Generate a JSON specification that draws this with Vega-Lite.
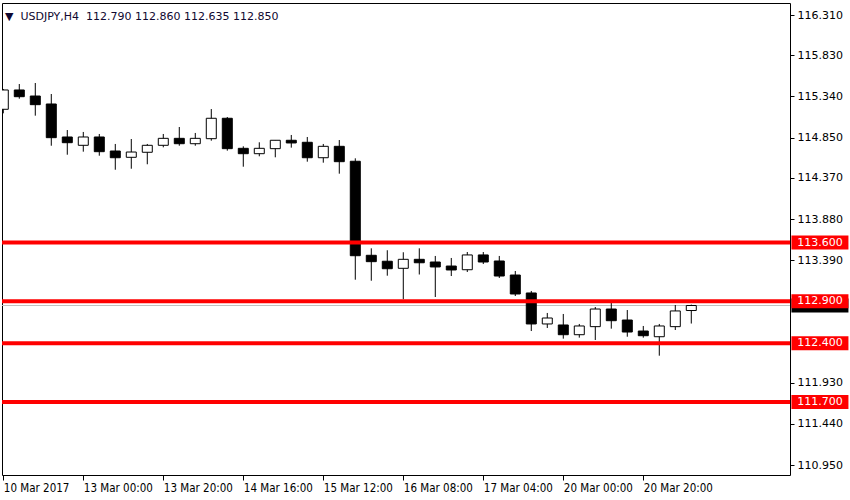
{
  "$schema": "https://vega.github.io/schema/vega-lite/v6.json",
  "width": 788,
  "height": 472,
  "autosize": "none",
  "padding": {"left": 2, "top": 3, "right": 60, "bottom": 25},
  "background": "white",
  "title": {
    "text": "▼\u00a0\u00a0USDJPY,H4\u00a0\u00a0112.790 112.860 112.635 112.850",
    "anchor": "start",
    "frame": "group",
    "orient": "top",
    "baseline": "top",
    "offset": 0,
    "dx": 3,
    "dy": 19,
    "font": "DejaVu Sans",
    "fontSize": 11,
    "fontWeight": "normal",
    "color": "#100830"
  },
  "config": {
    "view": {"stroke": "black", "strokeWidth": 1},
    "axis": {"grid": false, "domain": false, "labelColor": "black", "tickColor": "black", "tickWidth": 1}
  },
  "datasets": {
    "candles": [
      {"i": 0, "t": "10 Mar 04:00", "o": 115.187, "h": 115.429, "l": 115.139, "c": 115.417},
      {"i": 1, "t": "10 Mar 08:00", "o": 115.417, "h": 115.488, "l": 115.313, "c": 115.337},
      {"i": 2, "t": "10 Mar 12:00", "o": 115.345, "h": 115.500, "l": 115.111, "c": 115.242},
      {"i": 3, "t": "10 Mar 16:00", "o": 115.250, "h": 115.369, "l": 114.753, "c": 114.849},
      {"i": 4, "t": "10 Mar 20:00", "o": 114.857, "h": 114.940, "l": 114.646, "c": 114.789},
      {"i": 5, "t": "13 Mar 00:00", "o": 114.758, "h": 114.917, "l": 114.682, "c": 114.857},
      {"i": 6, "t": "13 Mar 04:00", "o": 114.857, "h": 114.893, "l": 114.634, "c": 114.682},
      {"i": 7, "t": "13 Mar 08:00", "o": 114.690, "h": 114.774, "l": 114.467, "c": 114.610},
      {"i": 8, "t": "13 Mar 12:00", "o": 114.615, "h": 114.833, "l": 114.479, "c": 114.678},
      {"i": 9, "t": "13 Mar 16:00", "o": 114.675, "h": 114.774, "l": 114.532, "c": 114.758},
      {"i": 10, "t": "13 Mar 20:00", "o": 114.758, "h": 114.893, "l": 114.734, "c": 114.841},
      {"i": 11, "t": "14 Mar 00:00", "o": 114.841, "h": 114.976, "l": 114.753, "c": 114.777},
      {"i": 12, "t": "14 Mar 04:00", "o": 114.777, "h": 114.905, "l": 114.753, "c": 114.841},
      {"i": 13, "t": "14 Mar 08:00", "o": 114.837, "h": 115.190, "l": 114.813, "c": 115.080},
      {"i": 14, "t": "14 Mar 12:00", "o": 115.080, "h": 115.095, "l": 114.694, "c": 114.718},
      {"i": 15, "t": "14 Mar 16:00", "o": 114.722, "h": 114.746, "l": 114.503, "c": 114.658},
      {"i": 16, "t": "14 Mar 20:00", "o": 114.658, "h": 114.794, "l": 114.627, "c": 114.722},
      {"i": 17, "t": "15 Mar 00:00", "o": 114.718, "h": 114.818, "l": 114.615, "c": 114.818},
      {"i": 18, "t": "15 Mar 04:00", "o": 114.818, "h": 114.881, "l": 114.730, "c": 114.786},
      {"i": 19, "t": "15 Mar 08:00", "o": 114.794, "h": 114.857, "l": 114.563, "c": 114.610},
      {"i": 20, "t": "15 Mar 12:00", "o": 114.610, "h": 114.774, "l": 114.551, "c": 114.746},
      {"i": 21, "t": "15 Mar 16:00", "o": 114.746, "h": 114.821, "l": 114.420, "c": 114.563},
      {"i": 22, "t": "15 Mar 20:00", "o": 114.568, "h": 114.603, "l": 113.157, "c": 113.443},
      {"i": 23, "t": "16 Mar 00:00", "o": 113.448, "h": 113.531, "l": 113.145, "c": 113.372},
      {"i": 24, "t": "16 Mar 04:00", "o": 113.377, "h": 113.508, "l": 113.205, "c": 113.288},
      {"i": 25, "t": "16 Mar 08:00", "o": 113.293, "h": 113.484, "l": 112.924, "c": 113.400},
      {"i": 26, "t": "16 Mar 12:00", "o": 113.400, "h": 113.531, "l": 113.219, "c": 113.359},
      {"i": 27, "t": "16 Mar 16:00", "o": 113.368, "h": 113.440, "l": 112.951, "c": 113.309},
      {"i": 28, "t": "16 Mar 20:00", "o": 113.320, "h": 113.416, "l": 113.201, "c": 113.273},
      {"i": 29, "t": "17 Mar 00:00", "o": 113.276, "h": 113.487, "l": 113.249, "c": 113.452},
      {"i": 30, "t": "17 Mar 04:00", "o": 113.452, "h": 113.487, "l": 113.344, "c": 113.368},
      {"i": 31, "t": "17 Mar 08:00", "o": 113.380, "h": 113.440, "l": 113.178, "c": 113.201},
      {"i": 32, "t": "17 Mar 12:00", "o": 113.213, "h": 113.261, "l": 112.963, "c": 112.987},
      {"i": 33, "t": "17 Mar 16:00", "o": 112.999, "h": 113.023, "l": 112.546, "c": 112.630},
      {"i": 34, "t": "17 Mar 20:00", "o": 112.630, "h": 112.761, "l": 112.582, "c": 112.701},
      {"i": 35, "t": "20 Mar 00:00", "o": 112.618, "h": 112.749, "l": 112.455, "c": 112.502},
      {"i": 36, "t": "20 Mar 04:00", "o": 112.502, "h": 112.630, "l": 112.467, "c": 112.606},
      {"i": 37, "t": "20 Mar 08:00", "o": 112.598, "h": 112.832, "l": 112.439, "c": 112.808},
      {"i": 38, "t": "20 Mar 12:00", "o": 112.808, "h": 112.880, "l": 112.574, "c": 112.669},
      {"i": 39, "t": "20 Mar 16:00", "o": 112.677, "h": 112.796, "l": 112.478, "c": 112.534},
      {"i": 40, "t": "20 Mar 20:00", "o": 112.546, "h": 112.606, "l": 112.467, "c": 112.490},
      {"i": 41, "t": "21 Mar 00:00", "o": 112.478, "h": 112.630, "l": 112.252, "c": 112.606},
      {"i": 42, "t": "21 Mar 04:00", "o": 112.598, "h": 112.856, "l": 112.558, "c": 112.785},
      {"i": 43, "t": "21 Mar 08:00", "o": 112.790, "h": 112.860, "l": 112.635, "c": 112.850}
    ],
    "levels": [
      {"level": 113.6, "label": "113.600"},
      {"level": 112.9, "label": "112.900"},
      {"level": 112.4, "label": "112.400"},
      {"level": 111.7, "label": "111.700"}
    ],
    "bid": [
      {"price": 112.85, "label": "112.850"}
    ]
  },
  "layer": [
    {
      "data": {"name": "bid"},
      "mark": {"type": "rule", "color": "#c0c0c0", "strokeWidth": 1},
      "encoding": {
        "y": {"field": "price", "type": "quantitative", "title": null}
      }
    },
    {
      "data": {"name": "candles"},
      "mark": {"type": "rule", "color": "black", "strokeWidth": 1, "clip": true},
      "encoding": {
        "x": {
          "field": "i",
          "type": "quantitative",
          "title": null,
          "scale": {"domain": [-0.081, 49.169], "nice": false, "zero": false, "padding": 0},
          "axis": {
            "orient": "bottom",
            "values": [0, 5, 10, 15, 20, 25, 30, 35, 40],
            "labelExpr": "['10 Mar 2017','13 Mar 00:00','13 Mar 20:00','14 Mar 16:00','15 Mar 12:00','16 Mar 08:00','17 Mar 04:00','20 Mar 00:00','20 Mar 20:00'][round(datum.value/5)]",
            "labelAlign": "left",
            "labelBaseline": "top",
            "labelFont": "DejaVu Sans Condensed, Liberation Sans Narrow, Liberation Sans",
            "labelFontSize": 11.5,
            "labelPadding": 2,
            "tickSize": 5,
            "labelFlush": false,
            "labelOverlap": false,
            "labelBound": false
          }
        },
        "y": {
          "field": "l",
          "type": "quantitative",
          "title": null,
          "scale": {"domain": [110.831, 116.453], "nice": false, "zero": false, "padding": 0},
          "axis": {
            "orient": "right",
            "values": [116.31, 115.83, 115.34, 114.85, 114.37, 113.88, 113.39, 111.93, 111.44, 110.95],
            "format": ".3f",
            "labelAlign": "left",
            "labelBaseline": "middle",
            "labelFont": "DejaVu Sans",
            "labelFontSize": 11,
            "labelPadding": 3,
            "tickSize": 4,
            "labelFlush": false,
            "labelOverlap": false,
            "labelBound": false
          }
        },
        "y2": {"field": "h"}
      }
    },
    {
      "data": {"name": "candles"},
      "mark": {"type": "bar", "width": 10, "stroke": "black", "strokeWidth": 1, "clip": true},
      "encoding": {
        "x": {"field": "i", "type": "quantitative", "title": null},
        "y": {"field": "o", "type": "quantitative", "title": null},
        "y2": {"field": "c"},
        "fill": {"condition": {"test": "datum.c >= datum.o", "value": "white"}, "value": "black"}
      }
    },
    {
      "data": {"name": "levels"},
      "mark": {"type": "rule", "color": "#ff0000", "strokeWidth": 4},
      "encoding": {
        "y": {"field": "level", "type": "quantitative", "title": null}
      }
    },
    {
      "data": {"name": "bid"},
      "mark": {"type": "tick", "orient": "horizontal", "size": 57, "thickness": 14, "color": "black", "opacity": 1},
      "encoding": {
        "x": {"datum": 51.04, "type": "quantitative"},
        "y": {"field": "price", "type": "quantitative", "title": null}
      }
    },
    {
      "data": {"name": "levels"},
      "mark": {"type": "tick", "orient": "horizontal", "size": 57, "thickness": 14, "color": "#ff0000", "opacity": 1},
      "encoding": {
        "x": {"datum": 51.04, "type": "quantitative"},
        "y": {"field": "level", "type": "quantitative", "title": null}
      }
    },
    {
      "data": {"name": "levels"},
      "mark": {"type": "text", "color": "white", "font": "DejaVu Sans", "fontSize": 11, "align": "center", "baseline": "middle"},
      "encoding": {
        "x": {"datum": 51.04, "type": "quantitative"},
        "y": {"field": "level", "type": "quantitative", "title": null},
        "text": {"field": "label"}
      }
    }
  ]
}
